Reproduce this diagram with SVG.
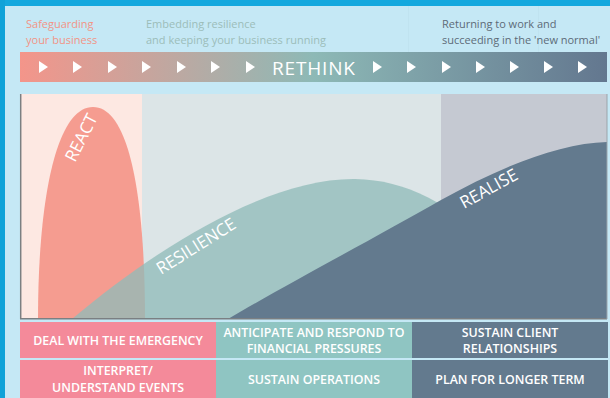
<svg xmlns="http://www.w3.org/2000/svg" width="610" height="398" viewBox="0 0 610 398">
<defs>
<linearGradient id="bannerGrad" x1="20" y1="0" x2="607" y2="0" gradientUnits="userSpaceOnUse">
<stop offset="0" stop-color="#f4958a"/>
<stop offset="0.5" stop-color="#8db9b6"/>
<stop offset="1" stop-color="#63778f"/>
</linearGradient>
<path id="tri" d="M0,0 L9,6 L0,12 Z" fill="#ffffff"/>
<style>
.hdr{font-family:"Open Sans","Liberation Sans",sans-serif;font-size:11px;}
.cell{font-family:"Open Sans","Liberation Sans",sans-serif;font-size:12.4px;font-weight:600;fill:#ffffff;text-anchor:middle;}
.lbl{font-family:"Open Sans","Liberation Sans",sans-serif;font-size:17px;fill:#ffffff;}
</style>
</defs>
<rect x="0" y="0" width="610" height="398" fill="#c5e8f5"/>
<rect x="0" y="0" width="610" height="6" fill="#13a8de"/>
<rect x="0" y="0" width="5" height="398" fill="#0fa2d8"/>
<g stroke="#bcdfec" stroke-width="1" opacity="0.5">
<line x1="408.5" y1="6" x2="408.5" y2="52"/>
<line x1="538.5" y1="6" x2="538.5" y2="52"/>
</g>

<g id="header">
<text class="hdr" fill="#f29486"><tspan x="26" y="28">Safeguarding</tspan><tspan x="26" y="44">your business</tspan></text>
<text class="hdr" fill="#9cbdb9"><tspan x="146" y="28">Embedding resilience</tspan><tspan x="146" y="44">and keeping your business running</tspan></text>
<text class="hdr" fill="#5d6b78"><tspan x="442" y="28">Returning to work and</tspan><tspan x="442" y="44">succeeding in the 'new normal'</tspan></text>
</g>

<g id="banner">
<rect x="20" y="52" width="587" height="30" fill="url(#bannerGrad)"/>
<use href="#tri" x="39" y="61"/>
<use href="#tri" x="73" y="61"/>
<use href="#tri" x="108" y="61"/>
<use href="#tri" x="142" y="61"/>
<use href="#tri" x="177" y="61"/>
<use href="#tri" x="211" y="61"/>
<use href="#tri" x="246" y="61"/>
<use href="#tri" x="373" y="61"/>
<use href="#tri" x="407" y="61"/>
<use href="#tri" x="442" y="61"/>
<use href="#tri" x="476" y="61"/>
<use href="#tri" x="510" y="61"/>
<use href="#tri" x="544" y="61"/>
<use href="#tri" x="578" y="61"/>
<text x="272" y="75" font-family="Open Sans, Liberation Sans, sans-serif" font-size="19" fill="#ffffff" textLength="83" lengthAdjust="spacing">RETHINK</text>
</g>

<g id="chart">
<rect x="20" y="94" width="122" height="225" fill="#fde8e2"/>
<rect x="142" y="94" width="299" height="225" fill="#dce5e7"/>
<rect x="441" y="94" width="166" height="225" fill="#c5c9d2"/>
</g>

<g id="react">
<path d="M38,319 C38,200 56,107 93,107 C130,107 145,200 145,319 Z" fill="#f59c90"/>
<text class="lbl" transform="translate(75,163) rotate(-63)">REACT</text>
</g>

<g id="resilience">
<path d="M72,319 C160,245 270,178 355,179 C410,180 450,205 520,262 L520,319 Z" fill="#91bbb9" fill-opacity="0.77"/>
<text class="lbl" transform="translate(161,275) rotate(-32)">RESILIENCE</text>
</g>

<g id="realise">
<path d="M228,319 C280,288 380,235 441,200 C500,167 560,143 607,142 L607,319 Z" fill="#637a8e"/>
<text class="lbl" transform="translate(464,209) rotate(-29)">REALISE</text>
</g>

<g id="axes" fill="none">
<line x1="20.7" y1="94" x2="20.7" y2="319" stroke="#7b7f82" stroke-width="1.5"/>
<line x1="20" y1="318.8" x2="607" y2="318.8" stroke="#7b7f82" stroke-width="1.5"/>
<line x1="607" y1="94" x2="607" y2="319" stroke="#9aa3ab" stroke-width="1"/>
</g>

<g id="cell-deal">
<rect x="20" y="322" width="196" height="36" fill="#f48a9a"/>
<text class="cell" x="118" y="345">DEAL WITH THE EMERGENCY</text>
</g>
<g id="cell-anticipate">
<rect x="216" y="322" width="196" height="36" fill="#8fc5c2"/>
<text class="cell"><tspan x="314" y="337">ANTICIPATE AND RESPOND TO</tspan><tspan x="314" y="353">FINANCIAL PRESSURES</tspan></text>
</g>
<g id="cell-sustain-client">
<rect x="412" y="322" width="196" height="36" fill="#637a8e"/>
<text class="cell"><tspan x="510" y="337">SUSTAIN CLIENT</tspan><tspan x="510" y="353">RELATIONSHIPS</tspan></text>
</g>
<g id="cell-interpret">
<rect x="20" y="360" width="196" height="38" fill="#f48a9a"/>
<text class="cell"><tspan x="118" y="375">INTERPRET/</tspan><tspan x="118" y="392">UNDERSTAND EVENTS</tspan></text>
</g>
<g id="cell-sustain-ops">
<rect x="216" y="360" width="196" height="38" fill="#8fc5c2"/>
<text class="cell" x="314" y="384">SUSTAIN OPERATIONS</text>
</g>
<g id="cell-plan">
<rect x="412" y="360" width="196" height="38" fill="#637a8e"/>
<text class="cell" x="510" y="384">PLAN FOR LONGER TERM</text>
</g>
</svg>
